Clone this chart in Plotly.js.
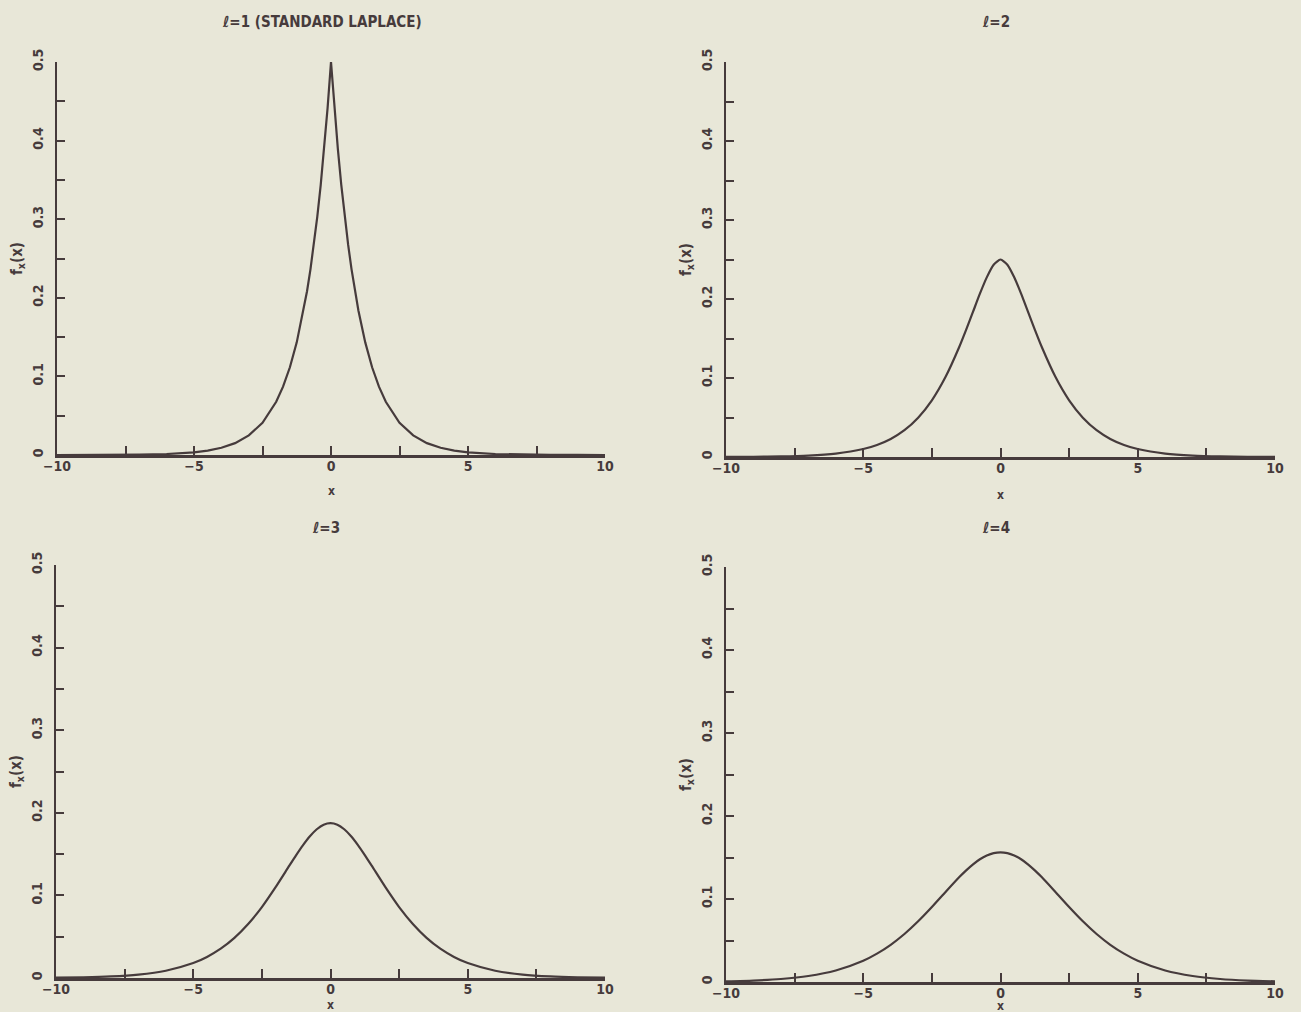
<!DOCTYPE html>
<html>
<head>
<meta charset="utf-8">
<script src="https://cdn.plot.ly/plotly-3.0.1.min.js"></script>
<style>html,body{margin:0;padding:0;background:#e8e7d8;}#chart{width:1301px;height:1012px;}</style>
</head>
<body>
<div id="chart"></div>
<script>
// Panel titles
const panelTitles = ["ℓ=1 (STANDARD LAPLACE)", "ℓ=2", "ℓ=3", "ℓ=4"];
const xTitle = "x";
const yTitle = "f<sub>x</sub>(x)";

// Panel 1 (ℓ=1): x and f_x(x)
const x1 = [-10,-9,-8,-7,-6,-5,-4.5,-4,-3.5,-3,-2.5,-2,-1.75,-1.5,-1.25,-1,-0.875,-0.75,-0.625,-0.5,-0.375,-0.25,-0.125,0,
            0.125,0.25,0.375,0.5,0.625,0.75,0.875,1,1.25,1.5,1.75,2,2.5,3,3.5,4,4.5,5,6,7,8,9,10];
const y1 = [0.00002,0.00006,0.00017,0.00046,0.00124,0.00337,0.00555,0.00916,0.0151,0.0249,0.0410,0.0677,0.0869,0.1116,0.1433,0.1839,0.2084,0.2362,0.2676,0.3033,0.3436,0.3894,0.4412,0.5,
            0.4412,0.3894,0.3436,0.3033,0.2676,0.2362,0.2084,0.1839,0.1433,0.1116,0.0869,0.0677,0.0410,0.0249,0.0151,0.00916,0.00555,0.00337,0.00124,0.00046,0.00017,0.00006,0.00002];

// Panels 2-4 share the same x positions
const xs = [-10,-9,-8,-7,-6,-5,-4.5,-4,-3.5,-3,-2.5,-2,-1.5,-1.25,-1,-0.75,-0.5,-0.25,0,0.25,0.5,0.75,1,1.25,1.5,2,2.5,3,3.5,4,4.5,5,6,7,8,9,10];
// Panel 2 (ℓ=2)
const y2 = [0.00013,0.00031,0.00075,0.00182,0.00434,0.0101,0.01528,0.0229,0.0340,0.0498,0.0718,0.1015,0.1395,0.1612,0.1839,0.2067,0.2274,0.2434,0.25,
            0.2434,0.2274,0.2067,0.1839,0.1612,0.1395,0.1015,0.0718,0.0498,0.0340,0.0229,0.01528,0.0101,0.00434,0.00182,0.00075,0.00031,0.00013];
// Panel 3 (ℓ=3)
const y3 = [0.00038,0.00085,0.00191,0.00416,0.00883,0.01811,0.02552,0.0355,0.0486,0.0654,0.0859,0.1100,0.1360,0.1488,0.1609,0.1716,0.1801,0.1856,0.1875,
            0.1856,0.1801,0.1716,0.1609,0.1488,0.1360,0.1100,0.0859,0.0654,0.0486,0.0355,0.02552,0.01811,0.00883,0.00416,0.00191,0.00085,0.00038];
// Panel 4 (ℓ=4)
const y4 = [0.00083,0.00175,0.0036,0.00719,0.01387,0.02562,0.03416,0.0448,0.0578,0.0731,0.0903,0.1085,0.1264,0.1345,0.1418,0.1479,0.1524,0.1553,0.15625,
            0.1553,0.1524,0.1479,0.1418,0.1345,0.1264,0.1085,0.0903,0.0731,0.0578,0.0448,0.03416,0.02562,0.01387,0.00719,0.0036,0.00175,0.00083];

// Axis ticks
const xTickVals = [-10,-7.5,-5,-2.5,0,2.5,5,7.5,10];
const xTickText = ["−10","","−5","","0","","5","","10"];
const yTickVals = [0,0.05,0.1,0.15,0.2,0.25,0.3,0.35,0.4,0.45,0.5];
const yTickText = ["0","","0.1","","0.2","","0.3","","0.4","","0.5"];

const ink = "#463b3c";
const bg = "#e8e7d8";
const W = 1301, H = 1012;

// pixel boxes of each panel: [left, right, top(0.5), bottom(0)]
const boxes = [[57,605,62,455],[726,1275,62,457],[56,605,565,978],[726,1275,567,982]];
const titleY = [22, 22, 528, 528];
const xTitleY = [491, 495, 1005, 1006];

const series = [[x1,y1],[xs,y2],[xs,y3],[xs,y4]];
const traces = series.map((s,i)=>({
  x: s[0], y: s[1], type: "scatter", mode: "lines",
  line: {color: ink, width: 2.2, shape: i===0 ? "linear" : "spline", smoothing: 0.6},
  xaxis: i===0 ? "x" : "x"+(i+1), yaxis: i===0 ? "y" : "y"+(i+1),
  hoverinfo: "skip", showlegend: false
}));

const fam = "DejaVu Sans Condensed, DejaVu Sans, Liberation Sans, sans-serif";
const tfont = {family: fam, size: 14, color: ink, weight: "bold"};
const layout = {
  width: W, height: H,
  margin: {l:0, r:0, t:0, b:0},
  paper_bgcolor: bg, plot_bgcolor: bg,
  font: {family: fam, size: 13, color: ink},
  showlegend: false,
  annotations: []
};

boxes.forEach((b,i)=>{
  const xk = i===0 ? "xaxis" : "xaxis"+(i+1);
  const yk = i===0 ? "yaxis" : "yaxis"+(i+1);
  const ya = i===0 ? "y" : "y"+(i+1);
  const xa = i===0 ? "x" : "x"+(i+1);
  layout[xk] = {
    domain: [b[0]/W, b[1]/W], anchor: ya,
    range: [-10, 10], fixedrange: true,
    showline: true, linecolor: ink, linewidth: 2.5, mirror: false,
    showgrid: false, zeroline: false,
    ticks: "inside", ticklen: 9, tickwidth: 2, tickcolor: ink,
    tickmode: "array", tickvals: xTickVals, ticktext: xTickText,
    ticklabelstandoff: -3,
    tickfont: tfont
  };
  layout[yk] = {
    domain: [1 - b[3]/H, 1 - b[2]/H], anchor: xa,
    range: [0, 0.5], fixedrange: true,
    showline: true, linecolor: ink, linewidth: 2.5, mirror: false,
    showgrid: false, zeroline: false,
    ticks: "inside", ticklen: 8, tickwidth: 2, tickcolor: ink,
    tickmode: "array", tickvals: yTickVals, ticktext: yTickText,
    tickangle: -90,
    ticklabelstandoff: 6,
    tickfont: tfont,
    title: {text: yTitle, font: {family: fam, size: 15, color: ink, weight: "bold"}, standoff: 4}
  };
  layout.annotations.push({
    text: panelTitles[i], xref: "paper", yref: "paper",
    x: (i===0 ? 322 : (b[0]+b[1])/2 - 5) / W,
    y: 1 - titleY[i]/H,
    xanchor: "center", yanchor: "middle", showarrow: false,
    font: {family: fam, size: 15, color: ink, weight: "bold"}
  });
  layout.annotations.push({
    text: xTitle, xref: "paper", yref: "paper",
    x: ((b[0]+b[1])/2) / W,
    y: 1 - xTitleY[i]/H,
    xanchor: "center", yanchor: "middle", showarrow: false,
    font: {family: fam, size: 12, color: ink, weight: "bold"}
  });
});

Plotly.newPlot("chart", traces, layout, {staticPlot: true});
</script>
</body>
</html>
